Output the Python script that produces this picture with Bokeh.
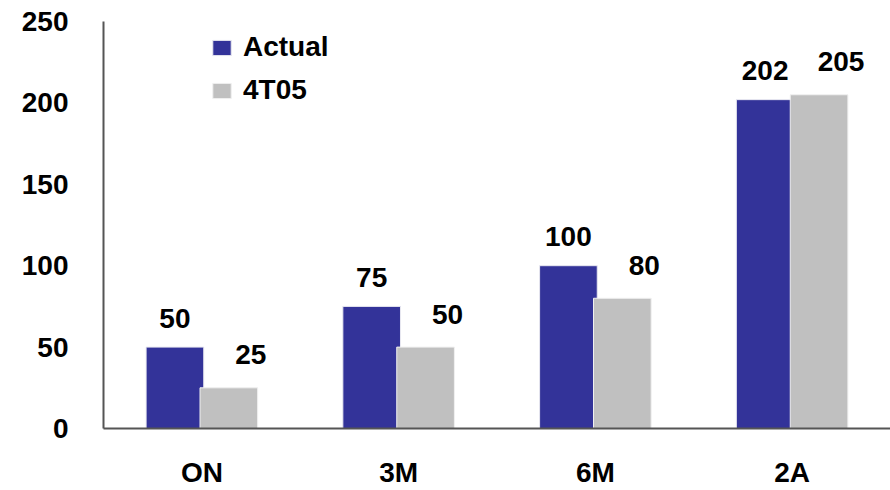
from bokeh.plotting import figure
from bokeh.models import (ColumnDataSource, FactorRange, Range1d, FixedTicker,
                          LabelSet, Legend, LegendItem)
from bokeh.transform import dodge
from bokeh.core.properties import value
from bokeh.embed import file_html
from bokeh.resources import INLINE

categories = ["ON", "3M", "6M", "2A"]
actual = [50, 75, 100, 202]
t405 = [25, 50, 80, 205]
y_ticks = [0, 50, 100, 150, 200, 250]

FONT = "Liberation Sans"
NAVY = "#333399"
GREY = "#C0C0C0"

src = ColumnDataSource(dict(
    cat=categories,
    actual=actual,
    t405=t405,
    actual_txt=[str(v) for v in actual],
    t405_txt=[str(v) for v in t405],
))

p = figure(width=890, height=490, x_range=FactorRange(*categories, range_padding=0),
           y_range=Range1d(0, 250), output_backend="svg", toolbar_location=None,
           min_border_left=103, min_border_right=0, min_border_top=21,
           min_border_bottom=61)
p.outline_line_color = None
p.xgrid.visible = False
p.ygrid.visible = False
p.background_fill_color = "white"
p.border_fill_color = "white"

off = 0.137
w = 0.293
r1 = p.vbar(x=dodge("cat", -off, range=p.x_range), top="actual", width=w, source=src,
            fill_color=NAVY, line_color="#E8E8F0", line_width=1)
r2 = p.vbar(x=dodge("cat", off, range=p.x_range), top="t405", width=w, source=src,
            fill_color=GREY, line_color="#F0F0F0", line_width=1)

lab1 = LabelSet(x=dodge("cat", -off, range=p.x_range), y="actual", text="actual_txt",
                source=src, text_align="center", text_baseline="middle",
                y_offset=29, text_font=value(FONT), text_font_style="bold",
                text_font_size="28px", text_color="black")
lab2 = LabelSet(x=dodge("cat", off, range=p.x_range), y="t405", text="t405_txt",
                source=src, text_align="center", text_baseline="middle",
                x_offset=22, y_offset=33, text_font=value(FONT), text_font_style="bold",
                text_font_size="28px", text_color="black")
p.add_layout(lab1)
p.add_layout(lab2)

for ax in (p.xaxis[0], p.yaxis[0]):
    ax.axis_line_color = "#555555"
    ax.axis_line_width = 2
    ax.major_tick_line_color = None
    ax.minor_tick_line_color = None
    ax.major_label_text_font = FONT
    ax.major_label_text_font_style = "bold"
    ax.major_label_text_font_size = "28px"
    ax.major_label_text_color = "black"

p.yaxis[0].ticker = FixedTicker(ticks=y_ticks)
p.yaxis[0].major_label_standoff = 29
p.xaxis[0].major_label_standoff = 22

legend = Legend(items=[LegendItem(label="Actual", renderers=[r1]),
                       LegendItem(label="4T05", renderers=[r2])],
                location=(107, 318), padding=0, margin=0, spacing=3,
                glyph_width=23, glyph_height=19, label_height=40,
                label_standoff=10, label_text_font=FONT, label_text_font_style="bold",
                label_text_font_size="28px", label_text_color="black",
                border_line_color=None, background_fill_alpha=0)
p.add_layout(legend, "center")

open("out.html", "w").write(file_html(p, INLINE))
